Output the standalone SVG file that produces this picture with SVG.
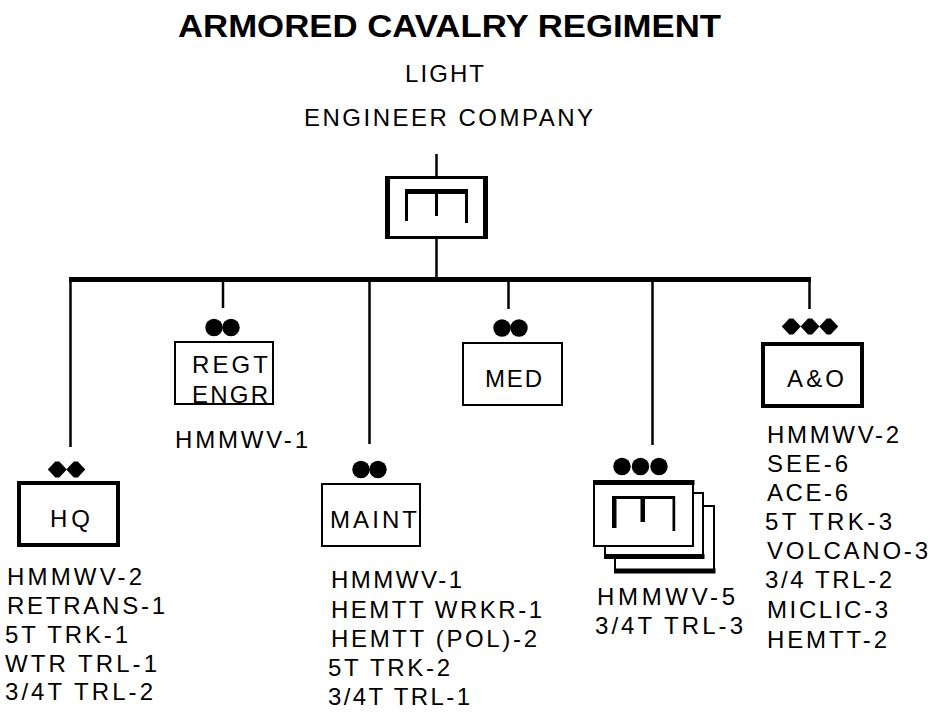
<svg xmlns="http://www.w3.org/2000/svg" width="930" height="715" viewBox="0 0 930 715">
<style>
.t{font-family:"Liberation Sans",Arial,sans-serif;font-size:24px;fill:#000}
.title{font-weight:bold;font-size:32px}
.box{fill:#fff;stroke:#000;stroke-width:2}
.thick{stroke-width:4}
.ln{stroke:#000;stroke-width:2.5;fill:none}
.dot{fill:#000}
</style>
<defs>
<polygon id="dia" points="-9.5,0 -2,-8 2,-8 9.5,0 2,8 -2,8"/>
</defs>
<rect width="930" height="715" fill="#fff"/>
<text class="t title" x="178" y="37" textLength="543" lengthAdjust="spacingAndGlyphs">ARMORED CAVALRY REGIMENT</text>
<text class="t" x="405" y="82" textLength="79" lengthAdjust="spacing">LIGHT</text>
<text class="t" x="304" y="126" textLength="289" lengthAdjust="spacing">ENGINEER COMPANY</text>

<g id="connectors">
<line class="ln" x1="436.5" y1="154" x2="436.5" y2="177"/>
<line class="ln" x1="436.5" y1="238" x2="436.5" y2="278"/>
<line x1="69" y1="279.5" x2="811" y2="279.5" stroke="#000" stroke-width="5"/>
<line class="ln" x1="70.5" y1="279" x2="70.5" y2="447"/>
<line class="ln" x1="223" y1="279" x2="223" y2="308"/>
<line class="ln" x1="369.5" y1="279" x2="369.5" y2="444"/>
<line class="ln" x1="508.5" y1="279" x2="508.5" y2="309"/>
<line class="ln" x1="652.5" y1="279" x2="652.5" y2="445"/>
<line class="ln" x1="809.5" y1="279" x2="809.5" y2="309"/>
</g>

<g id="company">
<rect x="385" y="176" width="103" height="63" fill="#000"/>
<rect x="390" y="179" width="93" height="57" fill="#fff"/>
<rect x="405" y="189" width="63" height="5" fill="#000"/>
<rect x="405" y="189" width="3" height="32" fill="#000"/>
<rect x="435" y="189" width="3" height="27" fill="#000"/>
<rect x="465" y="189" width="3" height="34" fill="#000"/>
</g>

<g id="hq">
<use href="#dia" x="57.3" y="469.5"/>
<use href="#dia" x="75.8" y="469.5"/>
<rect class="box thick" x="19" y="483" width="99" height="62"/>
<text class="t" x="50" y="527" textLength="40" lengthAdjust="spacing">HQ</text>
<text class="t" x="7" y="585" textLength="135" lengthAdjust="spacing">HMMWV-2</text>
<text class="t" x="7" y="614" textLength="158" lengthAdjust="spacing">RETRANS-1</text>
<text class="t" x="5" y="643" textLength="123" lengthAdjust="spacing">5T TRK-1</text>
<text class="t" x="5" y="672" textLength="152" lengthAdjust="spacing">WTR TRL-1</text>
<text class="t" x="5" y="700" textLength="148" lengthAdjust="spacing">3/4T TRL-2</text>
</g>

<g id="regt-engr">
<circle class="dot" cx="214" cy="327.5" r="8.7"/>
<circle class="dot" cx="231" cy="327.5" r="8.7"/>
<rect class="box" x="175" y="342" width="98" height="62"/>
<text class="t" x="192" y="373" textLength="76" lengthAdjust="spacing">REGT</text>
<text class="t" x="192" y="403" textLength="76" lengthAdjust="spacing">ENGR</text>
<text class="t" x="175" y="448" textLength="133" lengthAdjust="spacing">HMMWV-1</text>
</g>

<g id="maint">
<circle class="dot" cx="361" cy="469.5" r="8.7"/>
<circle class="dot" cx="378" cy="469.5" r="8.7"/>
<rect class="box" x="322" y="484" width="98" height="62"/>
<text class="t" x="330" y="528" textLength="87" lengthAdjust="spacing">MAINT</text>
<text class="t" x="331" y="588" textLength="131" lengthAdjust="spacing">HMMWV-1</text>
<text class="t" x="331" y="618" textLength="211" lengthAdjust="spacing">HEMTT WRKR-1</text>
<text class="t" x="331" y="647" textLength="206" lengthAdjust="spacing">HEMTT (POL)-2</text>
<text class="t" x="328" y="676" textLength="122" lengthAdjust="spacing">5T TRK-2</text>
<text class="t" x="328" y="705" textLength="142" lengthAdjust="spacing">3/4T TRL-1</text>
</g>

<g id="med">
<circle class="dot" cx="502" cy="328" r="8.7"/>
<circle class="dot" cx="519" cy="328" r="8.7"/>
<rect class="box" x="463" y="343" width="99" height="62"/>
<text class="t" x="485" y="387" textLength="57" lengthAdjust="spacing">MED</text>
</g>

<g id="platoons">
<circle class="dot" cx="622" cy="466.5" r="8.7"/>
<circle class="dot" cx="640.5" cy="466.5" r="8.7"/>
<circle class="dot" cx="659" cy="466.5" r="8.7"/>
<rect class="box" x="615" y="506" width="99" height="66" stroke-width="2.5"/>
<line x1="614" y1="571" x2="715.5" y2="571" stroke="#000" stroke-width="5"/>
<rect class="box" x="605" y="493" width="98" height="64" stroke-width="2.5"/>
<line x1="604" y1="556.5" x2="704.5" y2="556.5" stroke="#000" stroke-width="5"/>
<rect class="box" x="594" y="482" width="99" height="64" stroke-width="2.5"/>
<line x1="593" y1="482.5" x2="694.5" y2="482.5" stroke="#000" stroke-width="5"/>
<rect x="612" y="496" width="63" height="3" fill="#000"/>
<rect x="612" y="496" width="4.5" height="32" fill="#000"/>
<rect x="640.5" y="496" width="4.5" height="26" fill="#000"/>
<rect x="672.5" y="496" width="2.7" height="35" fill="#000"/>
<text class="t" x="597" y="605" textLength="138" lengthAdjust="spacing">HMMWV-5</text>
<text class="t" x="595" y="634" textLength="148" lengthAdjust="spacing">3/4T TRL-3</text>
</g>

<g id="a-and-o">
<use href="#dia" x="791.3" y="326.5"/>
<use href="#dia" x="810" y="326.5"/>
<use href="#dia" x="828.7" y="326.5"/>
<rect class="box thick" x="763" y="344" width="99" height="62"/>
<text class="t" x="787" y="387" textLength="57" lengthAdjust="spacing">A&amp;O</text>
<text class="t" x="767" y="443" textLength="132" lengthAdjust="spacing">HMMWV-2</text>
<text class="t" x="767" y="472" textLength="81" lengthAdjust="spacing">SEE-6</text>
<text class="t" x="767" y="501" textLength="81" lengthAdjust="spacing">ACE-6</text>
<text class="t" x="765" y="530" textLength="127" lengthAdjust="spacing">5T TRK-3</text>
<text class="t" x="767" y="559" textLength="161" lengthAdjust="spacing">VOLCANO-3</text>
<text class="t" x="765" y="588" textLength="127" lengthAdjust="spacing">3/4 TRL-2</text>
<text class="t" x="767" y="618" textLength="121" lengthAdjust="spacing">MICLIC-3</text>
<text class="t" x="767" y="648" textLength="120" lengthAdjust="spacing">HEMTT-2</text>
</g>
</svg>
